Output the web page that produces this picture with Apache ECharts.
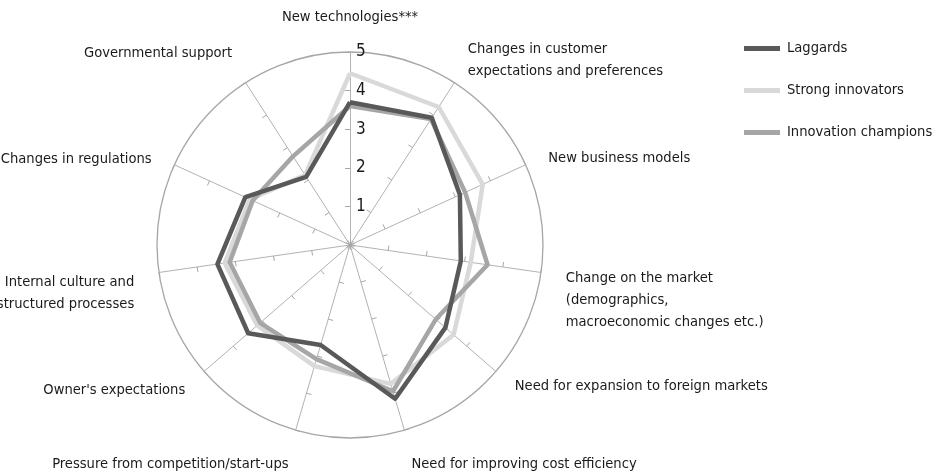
<!DOCTYPE html>
<html>
<head>
<meta charset="utf-8">
<script src="https://cdn.jsdelivr.net/npm/echarts@6/dist/echarts.min.js"></script>
<style>
html,body{margin:0;padding:0;background:#fff;}
#chart{width:934px;height:476px;}
</style>
</head>
<body>
<div id="chart"></div>
<script>
// Categories listed clockwise starting from the top
var categories = [
  "New technologies***",
  "Changes in customer\nexpectations and preferences",
  "New business models",
  "Change on the market\n(demographics,\nmacroeconomic changes etc.)",
  "Need for expansion to foreign markets",
  "Need for improving cost efficiency",
  "Pressure from competition/start-ups",
  "Owner's expectations",
  "Internal culture and\nstructured processes",
  "Changes in regulations",
  "Governmental support"
];
var laggards           = [3.70, 3.92, 3.13, 2.90, 3.27, 4.15, 2.70, 3.49, 3.47, 2.98, 2.10];
var strongInnovators   = [4.45, 4.25, 3.78, 3.16, 3.55, 3.75, 3.27, 3.18, 3.28, 2.85, 2.15];
var innovationChampions= [3.60, 3.88, 3.28, 3.60, 2.94, 3.95, 3.08, 3.08, 3.15, 2.77, 2.73];
var seriesNames = ["Laggards", "Strong innovators", "Innovation champions"];
var axisMax = 5;

// ECharts places radar indicators counter-clockwise; reorder to get clockwise
function cw(arr){ var out=[arr[0]]; for (var i=arr.length-1;i>=1;i--) out.push(arr[i]); return out; }

var indicators = cw(categories.map(function(c, i){
  var ind = {name: c, max: axisMax, min: 0};
  if (i === 0) ind.axisLabel = {show: true};
  return ind;
}));

// vertical nudge (px, + = down) for each name, by clockwise index
var nameShift = {1: -1, 2: 4, 3: 24, 4: -2, 5: 10, 6: 10, 7: 2, 8: 17, 9: 5, 10: -8};

var FONT = '"DejaVu Sans Condensed", "Liberation Sans Narrow", "Noto Sans", sans-serif';
var FS = 14.6;

var rich = {
  m: {fontFamily: FONT, fontSize: FS, lineHeight: 22, color: '#1a1a1a'},
  t: {fontFamily: FONT, fontSize: FS, lineHeight: 20, color: '#1a1a1a'}
};
Object.keys(nameShift).forEach(function(k){
  var h = Math.abs(nameShift[k]) * 2;
  rich['s' + k] = {fontSize: 1, lineHeight: h, height: h};
});
function nameFormatter(name){
  var idx = categories.indexOf(name);
  if (idx === 0) return '{t|' + name + '}';
  var sp = nameShift[idx] || 0;
  var lines = '{m|' + name.split('\n').join('}\n{m|') + '}';
  if (sp > 0) return '{s' + idx + '| }\n' + lines;
  if (sp < 0) return lines + '\n{s' + idx + '| }';
  return lines;
}

var chart = echarts.init(document.getElementById('chart'), null, {renderer:'canvas'});
chart.setOption({
  animation: false,
  backgroundColor: '#ffffff',
  textStyle: {fontFamily: FONT},
  legend: {
    orient: 'vertical',
    left: 739,
    top: 36,
    itemWidth: 36,
    itemHeight: 5,
    itemGap: 27,
    icon: 'rect',
    data: seriesNames,
    textStyle: {fontFamily: FONT, fontSize: FS, color: '#1a1a1a', padding: [0,0,0,2]}
  },
  radar: {
    center: [350, 245],
    radius: 193,
    startAngle: 90,
    shape: 'circle',
    splitNumber: 5,
    nameGap: 25,
    indicator: indicators,
    axisName: {
      color: '#1a1a1a',
      fontFamily: FONT,
      fontSize: FS,
      lineHeight: 22,
      formatter: nameFormatter,
      rich: rich
    },
    axisLine: {lineStyle: {color: '#b3b3b3', width: 1}},
    axisTick: {show: true, length: 5, lineStyle: {color: '#a6a6a6', width: 1}},
    axisLabel: {show: false, fontFamily: FONT, fontSize: 17, color: '#1a1a1a', showMinLabel: false, margin: -6, align: 'left'},
    splitLine: {show: true, lineStyle: {color: ['rgba(0,0,0,0)','rgba(0,0,0,0)','rgba(0,0,0,0)','rgba(0,0,0,0)','rgba(0,0,0,0)','#a6a6a6'], width: 1.3}},
    splitArea: {show: false}
  },
  series: [{
    type: 'radar',
    symbol: 'none',
    data: [
      {name: seriesNames[1], value: cw(strongInnovators), lineStyle: {color: '#d9d9d9', width: 4.5}, itemStyle: {color: '#d9d9d9'}},
      {name: seriesNames[2], value: cw(innovationChampions), lineStyle: {color: '#a6a6a6', width: 4.5}, itemStyle: {color: '#a6a6a6'}},
      {name: seriesNames[0], value: cw(laggards), lineStyle: {color: '#595959', width: 4.5}, itemStyle: {color: '#595959'}}
    ]
  }]
});
</script>
</body>
</html>
